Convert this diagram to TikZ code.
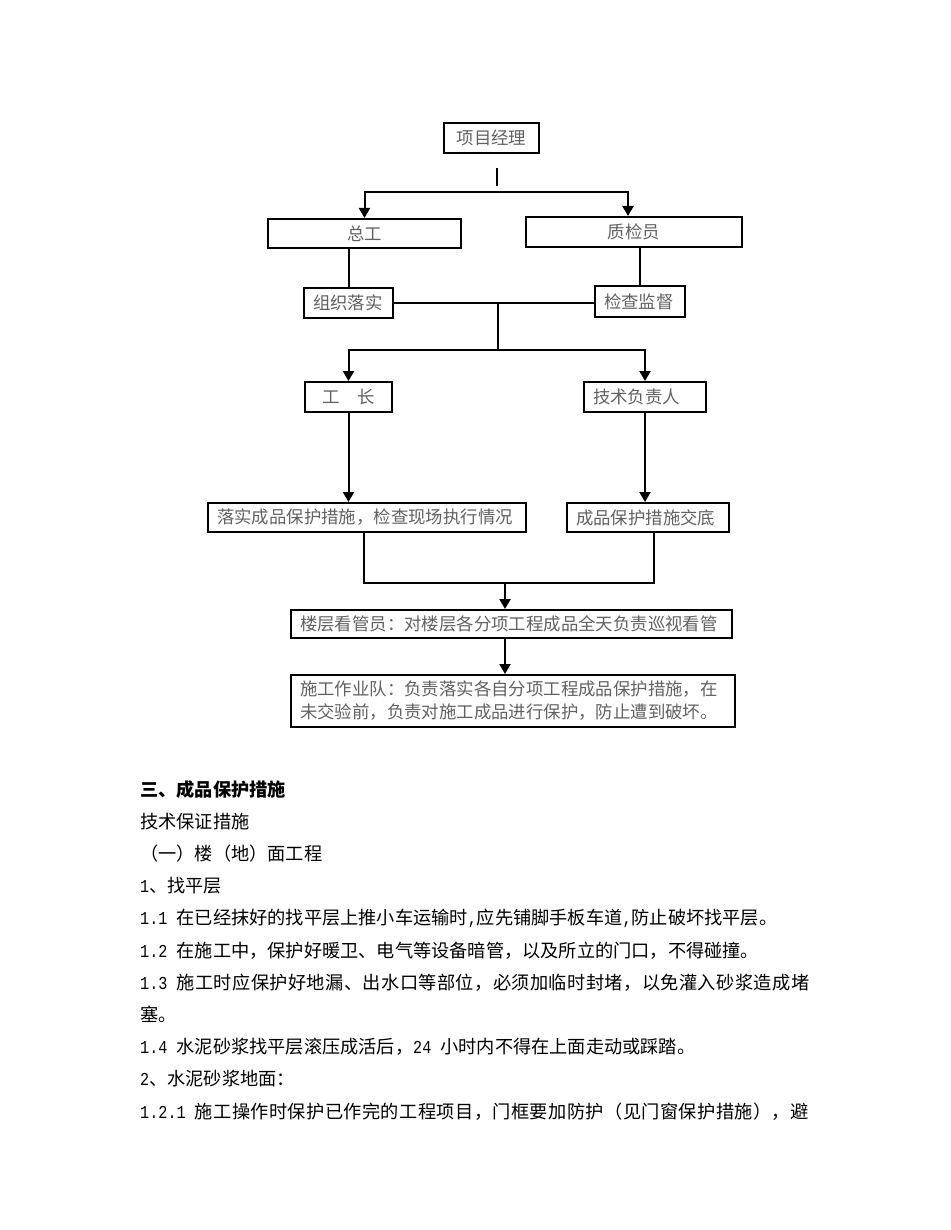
\documentclass[tikz,border=0pt]{standalone}
\usepackage{fontspec}
\setmainfont{Noto Sans CJK SC}
\newfontfamily\monofnt{Liberation Mono}[FakeStretch=0.8333]
\usetikzlibrary{arrows.meta}
\tikzset{
  box/.style={draw, line width=2pt, inner sep=0pt, font=\fontsize{17.4}{23}\selectfont, text=black!62},
  lbox/.style={box, align=left, inner xsep=9pt},
  conn/.style={line width=2pt},
  arr/.style={conn, -{Triangle[length=10pt,width=11pt]}},
  body/.style={anchor=base west, inner sep=0pt, font=\fontsize{18.2}{22}\selectfont, text=black},
}
\begin{document}
\begin{tikzpicture}[x=1pt,y=-1pt]
\fill[white] (0,0) rectangle (950,1230);
\useasboundingbox (0,0) rectangle (950,1230);

% boxes
\node[box, minimum width=95pt, minimum height=30pt] (pm) at (491.5,138) {项目经理};
\node[box, minimum width=193pt, minimum height=29pt] (zg) at (364.5,233.5) {总工};
\node[box, minimum width=216pt, minimum height=30pt] (zj) at (634,232) {质检员};
\node[lbox, text width=71pt, minimum height=30pt] (zz) at (348.5,303) {组织落实};
\node[lbox, text width=72pt, minimum height=31pt] (jc) at (640,301.5) {检查监督};
\node[box, minimum width=87pt, minimum height=30pt] (gz) at (348.5,397) {工　长};
\node[lbox, text width=104pt, minimum height=30pt] (js) at (645,397) {技术负责人};
\node[lbox, text width=300pt, minimum height=29pt] (ls) at (367,517.5) {落实成品保护措施，检查现场执行情况};
\node[lbox, text width=144pt, minimum height=29pt] (cb) at (648,517.5) {成品保护措施交底};
\node[lbox, text width=423pt, minimum height=28pt] (lc) at (511.5,624) {楼层看管员：对楼层各分项工程成品全天负责巡视看管};
\node[lbox, text width=426pt, minimum height=52pt] (sg) at (513,701) {施工作业队：负责落实各自分项工程成品保护措施，在\\未交验前，负责对施工成品进行保护，防止遭到破坏。};

% connectors
\coordinate (a1) at (497,168);
\coordinate (a2) at (497,186);
\coordinate (hM) at (497,192);
\coordinate (hR) at (628,192);
\draw[conn] (a1) -- (a2);
\draw[arr] (hM) -| (zg.north);
\draw[arr] (hM) -| (hR |- zj.north);

\draw[conn] (zg.south -| zz.north) -- (zz.north);
\draw[conn] (zj.south -| jc.north) -- (jc.north);
\draw[conn] (zz.east) -- (jc.west |- zz.east);

\coordinate (m2) at (498,303);
\coordinate (m3) at (498,350);
\draw[arr] (m2) -- (m3) -| (gz.north);
\draw[arr] (m3) -| (js.north);

\draw[arr] (gz.south) -- (gz.south |- ls.north);
\draw[arr] (js.south) -- (js.south |- cb.north);

\coordinate (j1) at (364,583);
\coordinate (j2) at (654,583);
\coordinate (j3) at (505,583);
\draw[conn] (ls.south -| j1) -- (j1) -- (j2) -- (cb.south -| j2);
\draw[arr] (j3) -- (j3 |- lc.north);
\draw[arr] (lc.south -| j3) -- (j3 |- sg.north);

% body text
\node[body] (t0) at (140,796) {\bfseries 三、成品保护措施};
\node[body] (t1) at (140,828.2) {技术保证措施};
\node[body] (t2) at (140,860.4) {（一）楼（地）面工程};
\node[body] (t3) at (140,892.6) {{\monofnt 1}、找平层};
\node[body] (t4) at (140,924.8) {{\monofnt 1.1 }在已经抹好的找平层上推小车运输时{\monofnt ,}应先铺脚手板车道{\monofnt ,}防止破坏找平层。};
\node[body] (t5) at (140,957) {{\monofnt 1.2 }在施工中，保护好暖卫、电气等设备暗管，以及所立的门口，不得碰撞。};
\node[body] (t6) at (140,989.2) {{\monofnt 1.3 }\addfontfeature{LetterSpace=2.3}施工时应保护好地漏、出水口等部位，必须加临时封堵，以免灌入砂浆造成堵};
\node[body] (t7) at (140,1021.4) {塞。};
\node[body] (t8) at (140,1053.6) {{\monofnt 1.4 }水泥砂浆找平层滚压成活后，{\monofnt 24 }小时内不得在上面走动或踩踏。};
\node[body] (t9) at (140,1085.8) {{\monofnt 2}、水泥砂浆地面：};
\node[body] (t10) at (140,1118) {{\monofnt 1.2.1 }\addfontfeature{LetterSpace=2.3}施工操作时保护已作完的工程项目，门框要加防护（见门窗保护措施），避};
\end{tikzpicture}
\end{document}
